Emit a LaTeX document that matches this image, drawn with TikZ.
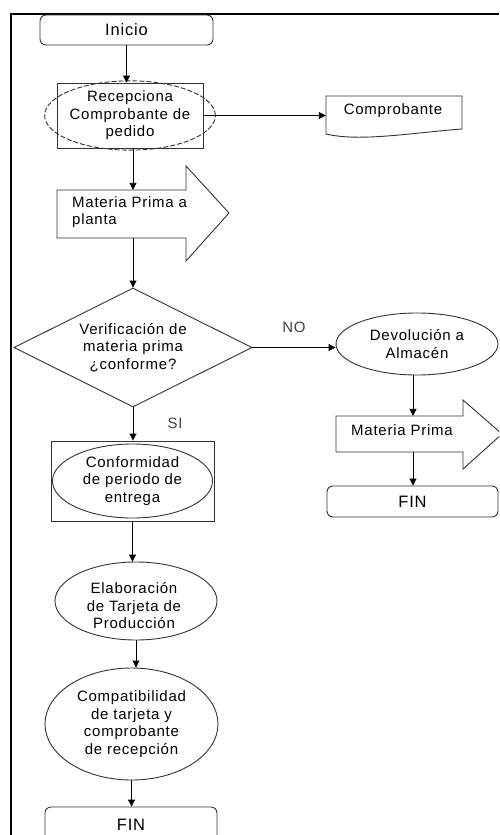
\documentclass[tikz,border=0pt]{standalone}
\usepackage{fontspec}
\usetikzlibrary{shapes.geometric,arrows.meta}
\newfontfamily\diag[LetterSpace=5]{Liberation Sans}
\begin{document}
\begin{tikzpicture}[x=1pt,y=-1pt,
  txt/.style={font=\diag\fontsize{15}{17.5}\selectfont, text=black, align=center, inner sep=0pt},
  shp/.style={draw=black!80, line width=0.9pt},
  term/.style={shp, rectangle, rounded corners=6pt, inner sep=0pt, txt, font=\diag\fontsize{16.5}{19}\selectfont},
  boxf/.style={shp, rectangle, inner sep=0pt},
  ell/.style={shp, ellipse, inner sep=0pt, txt},
  conn/.style={draw=black, line width=0.9pt, -{Triangle[length=7pt,width=7pt]}},
  lbl/.style={txt, text=black!75}]
\useasboundingbox (0,0) rectangle (499,835);
\clip (0,0) rectangle (499,835);
\fill[white] (0,0) rectangle (499,835);

% outer frame
\draw[line width=2.6pt] (11,835) -- (11,14) -- (499,14);

% guide lines for the two columns
\coordinate (axis) at (133,0);
\coordinate (raxis) at (413,0);

% left column
\node[term, minimum width=173, minimum height=30] (inicio) at (126.5,30) {Inicio};

\node[boxf, minimum width=146, minimum height=65] (recbox) at (130,115.5) {};
\node[ell, dash pattern=on 5pt off 2pt, minimum width=144, minimum height=63] (rec) at (130,115.5)
  {Recepciona\\Comprobante de\\pedido};

% document shape
\node[rectangle, inner sep=0pt, minimum width=136, minimum height=40] (comp) at (394,116) {};
\draw[shp] (326,96) -- (462,96) -- (462,129)
  .. controls (410,133) and (360,142) .. (326,134) -- cycle;
\node[txt] (comptxt) at (393,111) {Comprobante};

% block arrow: materia prima a planta
\node[rectangle, inner sep=0pt, minimum width=129, minimum height=48] (mpbody) at (121.5,214) {};
\draw[shp] (57,190) -- (186,190) -- (186,166) -- (229,213) -- (186,261) -- (186,238) -- (57,238) -- cycle;
\node[txt, align=left, anchor=west] (mptxt) at (72,212) {Materia Prima a\\planta};

% decision
\node[shp, diamond, shape aspect=2, inner sep=0pt, minimum width=238, minimum height=119, txt] (ver) at (133,347.5)
  {Verificación de\\materia prima\\¿conforme?};

\node[boxf, minimum width=163, minimum height=80] (conbox) at (132.5,481) {};
\node[ell, minimum width=160, minimum height=74] (con) at (132.5,481)
  {Conformidad\\de periodo de\\entrega};

\node[shp, ellipse, inner sep=0pt, minimum width=162, minimum height=78] (elab) at (136,601) {};
\begin{scope}
  \clip (40,560) rectangle (230,628);
  \node[txt] (elabtxt) at (134,606) {Elaboración\\de Tarjeta de\\Producción};
\end{scope}

\node[ell, minimum width=173, minimum height=112] (cmp) at (131.5,724)
  {Compatibilidad\\de tarjeta y\\comprobante\\de recepción};

\node[term, minimum width=172, minimum height=36] (fin1) at (131,825) {FIN};

% right column
\node[ell, minimum width=162, minimum height=62] (dev) at (417,344) {Devolución a\\Almacén};

\node[rectangle, inner sep=0pt, minimum width=127, minimum height=36] (mp2body) at (399.5,434) {};
\draw[shp] (336,416) -- (463,416) -- (463,400) -- (502,434) -- (463,469) -- (463,452) -- (336,452) -- cycle;
\node[txt] (mp2txt) at (402,430) {Materia Prima};

\node[term, minimum width=171, minimum height=31] (fin2) at (412.5,501.5) {FIN};

% connectors
\draw[conn] (inicio.south) -- (inicio.south |- recbox.north);
\draw[conn] (recbox.east) -- (comp.west |- recbox.east);
\draw[conn] (recbox.south -| axis) -- (mpbody.north -| axis);
\draw[conn] (mpbody.south -| axis) -- (ver.north);
\draw[conn] (ver.south) -- (ver.south |- conbox.north);
\draw[conn] (ver.east) -- (ver.east -| dev.west);
\draw[conn] (conbox.south) -- (conbox.south |- elab.north);
\draw[conn] (elab.south) -- (elab.south |- cmp.north);
\draw[conn] (cmp.south) -- (cmp.south |- fin1.north);
\draw[conn] (dev.south -| raxis) -- (mp2body.north -| raxis);
\draw[conn] (mp2body.south -| raxis) -- (fin2.north -| raxis);

% branch labels
\node[lbl] (si) at (175,423) {SI};
\node[lbl] (no) at (294,327) {NO};
\end{tikzpicture}
\end{document}
